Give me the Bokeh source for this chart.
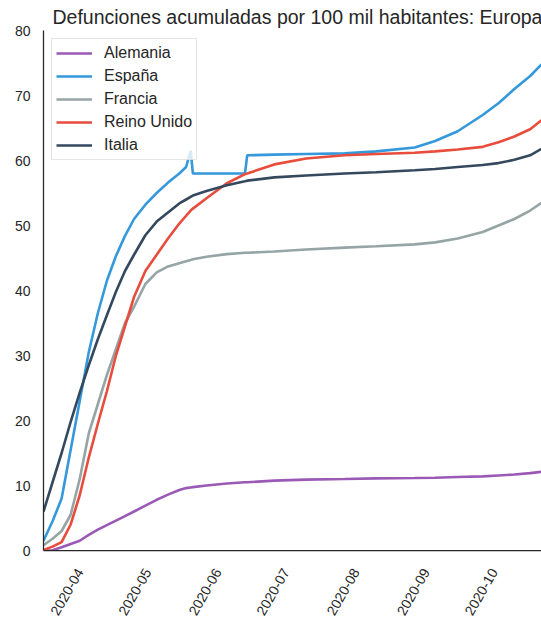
import math
from datetime import datetime, timedelta
from bokeh.plotting import figure
from bokeh.models import Range1d, FixedTicker, Legend, LegendItem
from bokeh.embed import file_html
from bokeh.resources import INLINE

dates = [
    "2020-03-21", "2020-03-25", "2020-03-29", "2020-04-02", "2020-04-06", "2020-04-10",
    "2020-04-14", "2020-04-18", "2020-04-22", "2020-04-26", "2020-04-30", "2020-05-05",
    "2020-05-10", "2020-05-15", "2020-05-20", "2020-05-23", "2020-05-25", "2020-05-26",
    "2020-06-01", "2020-06-10", "2020-06-18", "2020-06-19", "2020-07-01", "2020-07-15",
    "2020-08-01", "2020-08-15", "2020-09-01", "2020-09-10", "2020-09-20", "2020-10-01",
    "2020-10-08", "2020-10-15", "2020-10-22", "2020-10-27",
]

alemania = [0.0, 0.05, 0.5, 1.0, 1.5, 2.4, 3.2, 3.9, 4.6, 5.3, 6.0, 6.9,
            7.8, 8.6, 9.3, 9.6, 9.7, 9.75, 10.0, 10.3, 10.5, 10.5, 10.75, 10.9,
            11.0, 11.1, 11.15, 11.2, 11.3, 11.4, 11.55, 11.7, 11.9, 12.1]

espana = [1.5, 4.5, 8.0, 15.5, 23.0, 30.5, 36.5, 41.5, 45.3, 48.4, 51.0, 53.2,
          55.0, 56.6, 58.0, 59.0, 61.5, 58.0, 58.0, 58.0, 58.0, 60.8, 60.9, 61.0,
          61.1, 61.4, 62.0, 63.0, 64.5, 67.0, 68.8, 71.0, 73.0, 74.8]

francia = [0.8, 1.8, 3.0, 5.5, 11.0, 18.0, 22.5, 27.0, 31.0, 35.0, 37.5, 41.0,
           42.8, 43.7, 44.2, 44.5, 44.7, 44.8, 45.2, 45.6, 45.8, 45.8, 46.0, 46.3,
           46.6, 46.8, 47.1, 47.4, 48.0, 49.0, 50.0, 51.0, 52.3, 53.5]

reino_unido = [0.1, 0.6, 1.3, 4.0, 8.5, 14.3, 19.5, 24.5, 30.0, 34.5, 39.0, 43.0,
               45.5, 48.0, 50.3, 51.5, 52.3, 52.6, 54.2, 56.5, 57.9, 58.0, 59.4, 60.3,
               60.8, 61.0, 61.2, 61.4, 61.7, 62.1, 62.8, 63.7, 64.8, 66.2]

italia = [6.0, 10.5, 15.0, 19.8, 24.3, 28.5, 32.5, 36.2, 39.8, 43.0, 45.5, 48.5,
          50.6, 52.0, 53.4, 54.0, 54.4, 54.6, 55.3, 56.2, 56.8, 56.9, 57.4, 57.7,
          58.0, 58.2, 58.5, 58.7, 59.0, 59.3, 59.6, 60.1, 60.8, 61.8]

series_names = ["Alemania", "España", "Francia", "Reino Unido", "Italia"]
series_values = [alemania, espana, francia, reino_unido, italia]
series_colors = ["#9b59b6", "#3498db", "#95a5a6", "#e74c3c", "#34495e"]

month_ticks = ["2020-04-01", "2020-05-01", "2020-06-01", "2020-07-01",
               "2020-08-01", "2020-09-01", "2020-10-01"]
month_labels = ["2020-04", "2020-05", "2020-06", "2020-07", "2020-08", "2020-09", "2020-10"]
y_ticks = [0, 10, 20, 30, 40, 50, 60, 70, 80]

x = [datetime.strptime(d, "%Y-%m-%d") for d in dates]

p = figure(width=541, height=628, x_axis_type="datetime",
           output_backend="svg", toolbar_location=None,
           title="Defunciones acumuladas por 100 mil habitantes: Europa",
           x_range=Range1d(datetime(2020, 3, 21), datetime(2020, 10, 27)),
           y_range=Range1d(0, 80),
           min_border_left=43, min_border_right=0, min_border_bottom=78,
           min_border_top=0)

p.background_fill_color = "white"
p.border_fill_color = "white"
p.outline_line_color = None
p.grid.visible = False

p.title.text_font = "Liberation Sans"
p.title.text_font_size = "19.5px"
p.title.text_font_style = "normal"
p.title.text_color = "#262626"
p.title.align = "left"
p.title.offset = 9
p.title.standoff = 6

renderers = []
for name, vals, col in zip(series_names, series_values, series_colors):
    r = p.line(x, vals, line_color=col, line_width=2.6)
    renderers.append((name, r))

# matplotlib centres rotated labels on the tick, Bokeh ends them at the tick:
# place the (invisible) ticks a few days later so the labels sit where they do in the reference
label_shift = timedelta(days=5)
epoch = datetime(1970, 1, 1)
tick_ms = [((datetime.strptime(s, "%Y-%m-%d") + label_shift) - epoch).total_seconds() * 1000
           for s in month_ticks]
p.xaxis.ticker = FixedTicker(ticks=tick_ms)
p.xaxis.major_label_overrides = {t: lab for t, lab in zip(tick_ms, month_labels)}
p.xaxis.major_label_orientation = math.pi / 3
p.yaxis.ticker = FixedTicker(ticks=y_ticks)

for ax in (p.xaxis, p.yaxis):
    ax.major_tick_line_color = None
    ax.minor_tick_line_color = None
    ax.axis_line_color = "#262626"
    ax.axis_line_width = 1.25
    ax.major_label_text_font = "Liberation Sans"
    ax.major_label_text_font_size = "14px"
    ax.major_label_text_color = "#262626"
p.xaxis.major_label_standoff = 13
p.yaxis.major_label_standoff = 7

legend = Legend(items=[LegendItem(label=n, renderers=[r]) for n, r in renderers],
                location="top_left")
legend.margin = 8
legend.padding = 4
legend.spacing = 3
legend.glyph_width = 36
legend.glyph_height = 20
legend.label_height = 20
legend.label_standoff = 12
legend.label_text_font = "Liberation Sans"
legend.label_text_font_size = "16px"
legend.label_text_color = "#262626"
legend.border_line_color = "#cccccc"
legend.border_line_width = 1
legend.background_fill_alpha = 0.8
p.add_layout(legend)

open("out.html", "w").write(file_html(p, INLINE))
